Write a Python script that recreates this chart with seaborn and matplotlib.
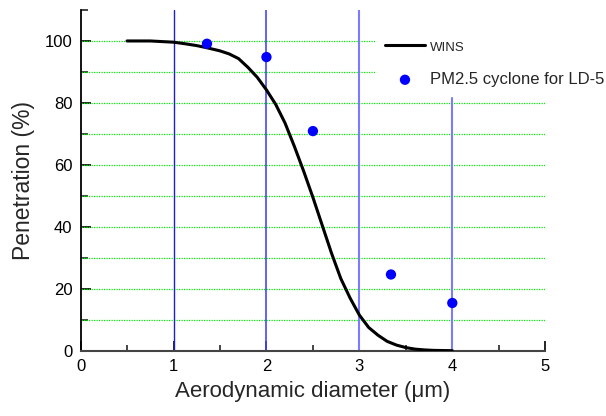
import matplotlib
matplotlib.use("Agg")
import matplotlib.pyplot as plt
import seaborn as sns
import pandas as pd
from matplotlib.ticker import MultipleLocator, FixedLocator

sns.set_theme(style="white")
plt.rcParams['font.family'] = ['Liberation Sans', 'DejaVu Sans']

# WINS penetration curve
wins_x = [0.5, 0.75, 1.0, 1.1, 1.25, 1.36, 1.5, 1.6, 1.7, 1.8, 1.9, 2.0, 2.1, 2.2,
          2.3, 2.4, 2.5, 2.6, 2.7, 2.8, 2.9, 3.0, 3.1, 3.2, 3.3, 3.4, 3.5, 3.6,
          3.7, 3.8, 3.9, 4.0]
wins_y = [100, 100, 99.6, 99.2, 98.5, 97.8, 96.8, 95.8, 94.3, 91.5, 88.3, 84.2,
          79.5, 73.5, 66.0, 58.0, 49.5, 40.5, 31.5, 23.3, 17.0, 11.5, 7.5, 5.0,
          3.0, 1.8, 1.0, 0.5, 0.25, 0.1, 0.05, 0.0]

# PM2.5 cyclone points
pm_x = [1.36, 2.0, 2.5, 3.34, 4.0]
pm_y = [99.1, 94.8, 70.9, 24.6, 15.4]

wins_label = "WINS"
pm_label = "PM2.5 cyclone for LD-5"
x_label = "Aerodynamic diameter (\u03bcm)"
y_label = "Penetration (%)"

df_w = pd.DataFrame({"d": wins_x, "p": wins_y})
df_p = pd.DataFrame({"d": pm_x, "p": pm_y})

fig = plt.figure(figsize=(6.06, 4.16), dpi=100)
ax = fig.add_axes([0.133, 0.157, 0.7667, 0.819])

# green dotted grid
for yv in range(10, 101, 10):
    ax.axhline(yv, color="#00ee00", lw=0.9, ls=(0, (1, 1)), zorder=1)

# vertical blue lines
ax.axvline(1, color="#1f1fc8", lw=1.0, zorder=1.5)
ax.axvline(2, color="#4545ff", lw=1.2, zorder=1.5)
ax.axvline(3, color="#7b7bff", lw=1.5, zorder=1.5)
ax.plot([4, 4], [0, 81.7], color="#7b7bff", lw=1.5, zorder=1.5)

sns.lineplot(data=df_w, x="d", y="p", ax=ax, color="black", lw=2.2,
             label=wins_label, zorder=3, sort=False)
sns.scatterplot(data=df_p, x="d", y="p", ax=ax, color="#0000ff", s=55,
                edgecolor="none", label=pm_label, zorder=4)

ax.set_xlim(0, 5)
ax.set_ylim(0, 110)
ax.xaxis.set_major_locator(MultipleLocator(1))
ax.xaxis.set_minor_locator(MultipleLocator(0.5))
ax.yaxis.set_major_locator(FixedLocator([0, 20, 40, 60, 80, 100]))
ax.yaxis.set_minor_locator(FixedLocator([10, 30, 50, 70, 90, 110]))
ax.tick_params(axis="both", which="major", direction="in", length=7, width=1.2,
               labelsize=12, colors="black", pad=6)
ax.tick_params(axis="both", which="minor", direction="in", length=5, width=1.2)
ax.tick_params(axis="x", which="minor", length=4)
ax.tick_params(bottom=True, left=True, which="both")

for s in ["top", "right"]:
    ax.spines[s].set_visible(False)
ax.spines["left"].set_color("black")
ax.spines["left"].set_linewidth(1.3)
ax.spines["bottom"].set_color("#444444")
ax.spines["bottom"].set_linewidth(1.5)

ax.set_xlabel(x_label, fontsize=16, labelpad=5)
ax.set_ylabel(y_label, fontsize=16.5, labelpad=7)

leg = ax.legend(loc="upper left", bbox_to_anchor=(0.605, 0.95),
                bbox_transform=fig.transFigure, frameon=True, facecolor="white",
                edgecolor="none", framealpha=1, fancybox=False,
                labelspacing=1.1, handlelength=2.4, handletextpad=0.3,
                borderpad=0.6, fontsize=12)
leg.set_zorder(5)
leg.get_texts()[0].set_fontsize(9.5)

fig.savefig("out.png", dpi=100)
